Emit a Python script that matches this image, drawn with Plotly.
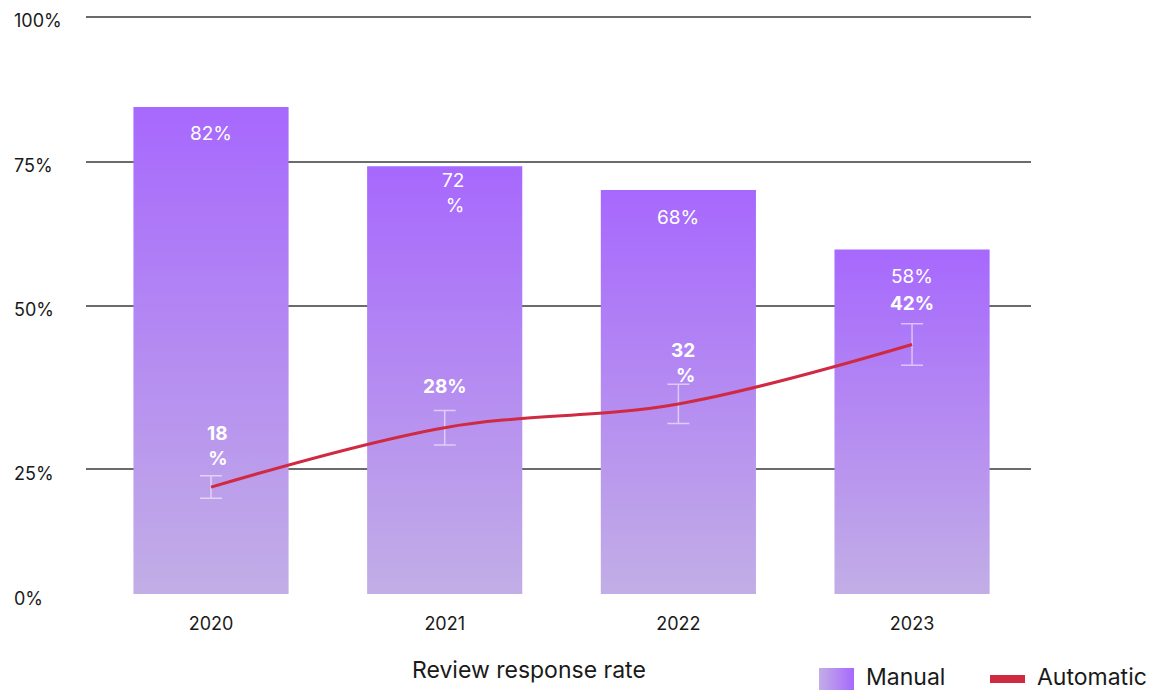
import base64
import plotly.graph_objects as go

# ---- data ----
years = ["2020", "2021", "2022", "2023"]
manual = [82, 72, 68, 58]
automatic = [18, 28, 32, 42]
automatic_err = [1.9, 2.9, 3.3, 3.5]
manual_wrap = [False, True, False, False]
automatic_wrap = [True, False, True, False]

grid_levels = [0, 21.0, 48.5, 72.8, 97.2]
grid_labels = ["0%", "25%", "50%", "75%", "100%"]

# ---- styling ----
FONT = "Inter, 'Noto Sans', sans-serif"
TEXT = "#1a1a1a"
BAR_TOP = "#a768fd"
BAR_BOTTOM = "#c2aee6"
LINE = "#cf2a42"
GRID = "#6b6b6b"

W, H = 1161, 693
ML, MR, MT, MB = 86, 130, 0, 99
PW, PH = W - ML - MR, H - MT - MB
BAR_HALF = 0.332


def px_x(p):
    return (p - ML) / PW


def px_y(p):
    return (H - MB - p) / PH


fig = go.Figure()

# gradient bars (one filled polygon per year so each fades from its own base to top)
for i, v in enumerate(manual):
    fig.add_trace(go.Scatter(
        x=[i - BAR_HALF, i + BAR_HALF, i + BAR_HALF, i - BAR_HALF, i - BAR_HALF],
        y=[0, 0, v, v, 0],
        mode="lines", fill="toself",
        line=dict(width=0, color=BAR_TOP),
        fillgradient=dict(type="vertical",
                          colorscale=[[0, BAR_BOTTOM], [1, BAR_TOP]]),
        hoverinfo="skip", showlegend=False,
    ))

# automatic response line with error bars
fig.add_trace(go.Scatter(
    x=list(range(len(years))), y=automatic,
    mode="lines",
    line=dict(color=LINE, width=3, shape="spline", smoothing=1),
    error_y=dict(type="data", array=automatic_err, visible=True,
                 color="rgba(255,255,255,0.55)", thickness=1.5, width=11),
    showlegend=False,
))

annotations = []

# value labels
for i, (m, wrap) in enumerate(zip(manual, manual_wrap)):
    annotations.append(dict(
        x=i, y=m, xref="x", yref="y",
        text=f"{m}<br>%" if wrap else f"{m}%",
        showarrow=False, align="right",
        xanchor="right" if wrap else "center",
        xshift=21 if wrap else 0,
        yanchor="middle", yshift=-27,
        font=dict(family=FONT, size=19, color="white"),
    ))
for i, (a, wrap) in enumerate(zip(automatic, automatic_wrap)):
    annotations.append(dict(
        x=i, y=a, xref="x", yref="y",
        text=f"<b>{a}<br>%</b>" if wrap else f"<b>{a}%</b>",
        showarrow=False, align="right",
        xanchor="right" if wrap else "center",
        xshift=19 if wrap else 0,
        yanchor="middle", yshift=41,
        font=dict(family=FONT, size=19, color="white"),
    ))

# left-aligned y-axis labels
for lvl, lab in zip(grid_levels, grid_labels):
    annotations.append(dict(
        x=px_x(12), y=lvl, xref="paper", yref="y",
        text=lab, showarrow=False, xanchor="left", yanchor="middle",
        yshift=-4, font=dict(family=FONT, size=18, color=TEXT),
    ))

# axis title
annotations.append(dict(
    x=px_x(529), y=px_y(670), xref="paper", yref="paper",
    text="Review response rate", showarrow=False,
    xanchor="center", yanchor="middle",
    font=dict(family=FONT, size=23, color=TEXT),
))

# legend
annotations.append(dict(
    x=px_x(865), y=px_y(677), xref="paper", yref="paper",
    text="Manual", showarrow=False, xanchor="left", yanchor="middle",
    borderpad=0, font=dict(family=FONT, size=23, color=TEXT),
))
annotations.append(dict(
    x=px_x(1036), y=px_y(677), xref="paper", yref="paper",
    text="Automatic", showarrow=False, xanchor="left", yanchor="middle",
    borderpad=0, font=dict(family=FONT, size=23, color=TEXT),
))

swatch_svg = (
    '<svg xmlns="http://www.w3.org/2000/svg" width="35" height="22">'
    '<defs><linearGradient id="g" x1="0" x2="1" y1="0" y2="0">'
    f'<stop offset="0" stop-color="{BAR_BOTTOM}"/>'
    f'<stop offset="1" stop-color="{BAR_TOP}"/>'
    '</linearGradient></defs>'
    '<rect width="35" height="22" fill="url(#g)"/></svg>'
)
swatch_uri = "data:image/svg+xml;base64," + base64.b64encode(swatch_svg.encode()).decode()

fig.update_layout(
    images=[dict(
        source=swatch_uri, xref="paper", yref="paper",
        x=px_x(819), y=px_y(668), sizex=35 / PW, sizey=22 / PH,
        xanchor="left", yanchor="top", sizing="stretch", layer="above",
    )],
    shapes=[dict(
        type="rect", xref="paper", yref="paper",
        x0=px_x(990), x1=px_x(1025), y0=px_y(675), y1=px_y(683),
        fillcolor=LINE, line=dict(width=0),
    )],
    annotations=annotations,
    width=W, height=H,
    margin=dict(l=ML, r=MR, t=MT, b=MB),
    paper_bgcolor="white", plot_bgcolor="white",
    font=dict(family=FONT, color=TEXT),
    xaxis=dict(
        range=[-0.535, 3.509],
        tickvals=list(range(len(years))), ticktext=years,
        tickfont=dict(family=FONT, size=18, color=TEXT),
        showgrid=False, zeroline=False, showline=False, ticks="",
        ticklabelstandoff=17,
    ),
    yaxis=dict(
        range=[0, 100],
        tickvals=grid_levels, showticklabels=False,
        showgrid=True, gridcolor=GRID, gridwidth=2,
        zeroline=False, showline=False, ticks="",
    ),
    showlegend=False,
)

fig.write_html("out.html")
